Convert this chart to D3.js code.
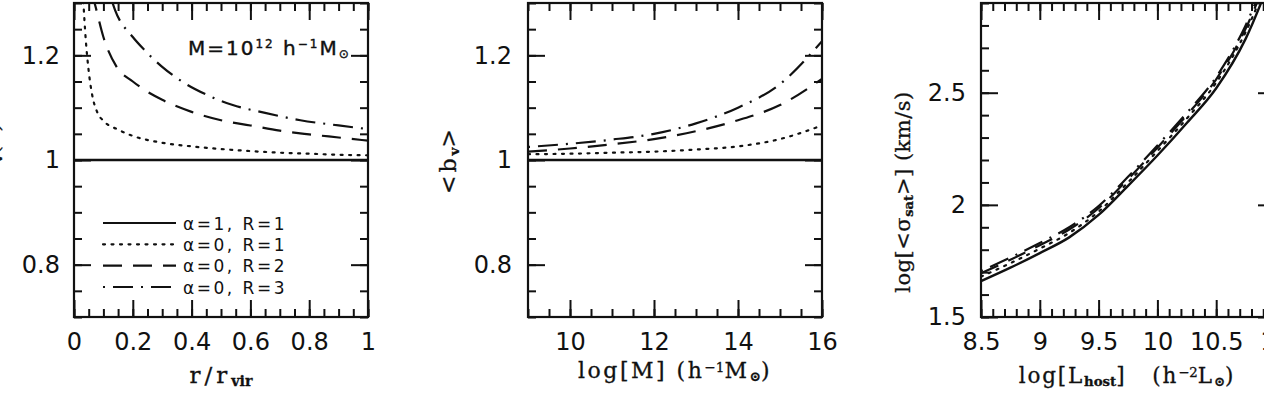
<!DOCTYPE html>
<html><head><meta charset="utf-8">
<script src="https://cdn.jsdelivr.net/npm/d3@7"></script>
<style>
body{margin:0;background:#fff;}
svg{display:block;}
text{white-space:pre;}
.tick text{font-family:"DejaVu Sans";font-size:24px;fill:#111;}
.tick line{stroke:#111;stroke-width:2;}
</style></head>
<body>
<svg id="c" width="1264" height="394"></svg>
<script>
// ---------- DATA ----------
// Panel 1: b_v(r) vs r/r_vir at M = 1e12
const p1Solid_r = [0, 1];
const p1Solid_b = [1, 1];
const p1Dot_r = [0.03, 0.04, 0.05, 0.06, 0.08, 0.10, 0.15, 0.20, 0.30, 0.40, 0.50, 0.60, 0.70, 0.80, 0.90, 1.00];
const p1Dot_b = [1.32, 1.23, 1.17, 1.13, 1.09, 1.075, 1.058, 1.046, 1.033, 1.026, 1.021, 1.017, 1.014, 1.012, 1.010, 1.009];
const p1Dash_r = [0.06, 0.07, 0.10, 0.145, 0.20, 0.26, 0.30, 0.40, 0.50, 0.60, 0.70, 0.80, 0.90, 1.00];
const p1Dash_b = [1.32, 1.30, 1.235, 1.178, 1.15, 1.127, 1.115, 1.092, 1.076, 1.066, 1.056, 1.049, 1.043, 1.037];
const p1DD_r = [0.12, 0.14, 0.20, 0.24, 0.30, 0.37, 0.45, 0.54, 0.65, 0.77, 0.90, 1.00];
const p1DD_b = [1.32, 1.286, 1.235, 1.21, 1.178, 1.149, 1.125, 1.105, 1.09, 1.076, 1.066, 1.059];

// Panel 2: <b_v> vs log M
const p2_logM = [9, 10, 11, 12, 13, 14, 15, 16];
const p2Solid = [1, 1, 1, 1, 1, 1, 1, 1];
const p2Dot = [1.011, 1.012, 1.014, 1.016, 1.020, 1.026, 1.040, 1.066];
const p2Dash = [1.016, 1.022, 1.030, 1.040, 1.055, 1.076, 1.105, 1.155];
const p2DD = [1.025, 1.031, 1.039, 1.050, 1.070, 1.100, 1.145, 1.227];

// Panel 3: log<sigma_sat> vs log L_host
const p3_logL = [8.5, 8.75, 9.0, 9.25, 9.5, 9.75, 10.0, 10.25, 10.5, 10.75, 11.0];
const p3Solid = [1.66, 1.72, 1.785, 1.855, 1.955, 2.085, 2.22, 2.365, 2.52, 2.74, 3.06];
const p3Dot   = [1.68, 1.74, 1.805, 1.875, 1.97, 2.10, 2.24, 2.385, 2.545, 2.77, 3.09];
const p3Dash  = [1.695, 1.755, 1.82, 1.89, 1.985, 2.115, 2.255, 2.40, 2.56, 2.785, 3.11];
const p3DD    = [1.705, 1.765, 1.83, 1.90, 1.995, 2.125, 2.265, 2.41, 2.57, 2.80, 3.13];

// Ticks
const p1XMajor = [0, 0.2, 0.4, 0.6, 0.8, 1];
const p1XLabels = ["0", "0.2", "0.4", "0.6", "0.8", "1"];
const bYMajor = [0.8, 1.0, 1.2];
const bYLabels = ["0.8", "1", "1.2"];
const p2XMajor = [10, 12, 14, 16];
const p2XLabels = ["10", "12", "14", "16"];
const p3XMajor = [8.5, 9, 9.5, 10, 10.5, 11];
const p3XLabels = ["8.5", "9", "9.5", "10", "10.5", "11"];
const p3YMajor = [1.5, 2, 2.5];
const p3YLabels = ["1.5", "2", "2.5"];

// Legend
const legendLabels = ["α=1, R=1", "α=0, R=1", "α=0, R=2", "α=0, R=3"];
const styles = [
  {dash: null},
  {dash: "2,6.5"},
  {dash: "19,11"},
  {dash: "2,8,20,8"}
];

// ---------- DRAW ----------
const svg = d3.select("#c");
const top0 = 3, bot0 = 317;

function panel(id, x0, xDom, yDom, opts) {
  const x = d3.scaleLinear().domain(xDom).range([x0, x0 + 294]);
  const y = d3.scaleLinear().domain(yDom).range([bot0, top0]);
  const g = svg.append("g");
  svg.append("clipPath").attr("id", "clip" + id).append("rect")
    .attr("x", x0).attr("y", top0).attr("width", 294).attr("height", bot0 - top0);

  const cg = g.append("g").attr("clip-path", `url(#clip${id})`);
  opts.series.forEach((s, i) => {
    const line = d3.line().x(d => x(d[0])).y(d => y(d[1])).curve(d3.curveMonotoneX);
    const pts = s.xs.map((v, k) => [v, s.ys[k]]);
    cg.append("path").attr("d", line(pts)).attr("fill", "none")
      .attr("stroke", "#111").attr("stroke-width", i === 0 ? 2.4 : 2.2)
      .attr("stroke-linecap", i === 1 ? "round" : "butt")
      .attr("stroke-dasharray", styles[i].dash);
  });

  const mk = (axis, tr) => {
    const a = g.append("g").attr("transform", tr).call(axis);
    a.select(".domain").remove();
    return a;
  };
  // minor ticks
  mk(d3.axisBottom(x).tickValues(opts.xMinor).tickSize(-8).tickFormat(""), `translate(0,${bot0})`);
  mk(d3.axisTop(x).tickValues(opts.xMinor).tickSize(-8).tickFormat(""), `translate(0,${top0})`);
  mk(d3.axisLeft(y).tickValues(opts.yMinor).tickSize(-8).tickFormat(""), `translate(${x0},0)`);
  mk(d3.axisRight(y).tickValues(opts.yMinor).tickSize(-8).tickFormat(""), `translate(${x0 + 294},0)`);
  // major ticks
  mk(d3.axisBottom(x).tickValues(opts.xMajor).tickSize(-17).tickPadding(16)
      .tickFormat((d, i) => opts.xLabels[i]), `translate(0,${bot0})`);
  mk(d3.axisTop(x).tickValues(opts.xMajor).tickSize(-17).tickFormat(""), `translate(0,${top0})`);
  mk(d3.axisLeft(y).tickValues(opts.yMajor).tickSize(-17).tickPadding(opts.ypad)
      .tickFormat((d, i) => opts.yLabels[i]), `translate(${x0},0)`);
  mk(d3.axisRight(y).tickValues(opts.yMajor).tickSize(-17).tickFormat(""), `translate(${x0 + 294},0)`);

  g.append("rect").attr("x", x0).attr("y", top0).attr("width", 294).attr("height", bot0 - top0)
    .attr("fill", "none").attr("stroke", "#111").attr("stroke-width", 2.2);
  return {x, y, g};
}

const P1 = panel(1, 74, [0, 1], [0.7, 1.3], {
  series: [
    {xs: p1Solid_r, ys: p1Solid_b}, {xs: p1Dot_r, ys: p1Dot_b},
    {xs: p1Dash_r, ys: p1Dash_b}, {xs: p1DD_r, ys: p1DD_b}],
  xMajor: p1XMajor, xLabels: p1XLabels, xMinor: d3.range(0, 1.0001, 0.05),
  yMajor: bYMajor, yLabels: bYLabels, yMinor: d3.range(0.7, 1.3001, 0.05), ypad: 14
});
const P2 = panel(2, 528, [9, 16], [0.7, 1.3], {
  series: [
    {xs: p2_logM, ys: p2Solid}, {xs: p2_logM, ys: p2Dot},
    {xs: p2_logM, ys: p2Dash}, {xs: p2_logM, ys: p2DD}],
  xMajor: p2XMajor, xLabels: p2XLabels, xMinor: d3.range(9, 16.001, 0.5),
  yMajor: bYMajor, yLabels: bYLabels, yMinor: d3.range(0.7, 1.3001, 0.05), ypad: 16
});
const P3 = panel(3, 981, [8.5, 11], [1.5, 2.9], {
  series: [
    {xs: p3_logL, ys: p3Solid}, {xs: p3_logL, ys: p3Dot},
    {xs: p3_logL, ys: p3Dash}, {xs: p3_logL, ys: p3DD}],
  xMajor: p3XMajor, xLabels: p3XLabels, xMinor: d3.range(8.5, 11.001, 0.1),
  yMajor: p3YMajor, yLabels: p3YLabels, yMinor: d3.range(1.5, 2.9001, 0.1), ypad: 15
});

// ---------- TEXT ----------
const serif = "DejaVu Serif";
function title(x, y, rot, parts, size, ls) {
  const t = svg.append("text")
    .attr("transform", `translate(${x},${y}) rotate(${rot})`)
    .attr("text-anchor", "middle")
    .attr("font-family", serif).attr("font-size", size)
    .attr("letter-spacing", ls || 0)
    .attr("fill", "#111").attr("stroke", "#111").attr("stroke-width", 0.3);
  parts.forEach(p => {
    const ts = t.append("tspan").text(p.t);
    if (p.s === "sub") ts.attr("font-size", size * 0.62).attr("baseline-shift", "-22%").attr("font-weight", "bold").attr("letter-spacing", 0);
    if (p.s === "sup") ts.attr("font-size", size * 0.62).attr("baseline-shift", "45%").attr("letter-spacing", 0);
  });
  return t;
}
title(221, 383, 0, [{t: "r/r"}, {t: "vir", s: "sub"}], 23, 4);
title(675, 378, 0, [{t: "log[M] (h"}, {t: "−1", s: "sup"}, {t: "M"}, {t: "⊙", s: "sub"}, {t: ")"}], 22, 2.5);
title(1127, 383, 0, [{t: "log[L"}, {t: "host", s: "sub"}, {t: "]   (h"}, {t: "−2", s: "sup"}, {t: "L"}, {t: "⊙", s: "sub"}, {t: ")"}], 21.5, 1.8);
title(456, 160, -90, [{t: "<b"}, {t: "v", s: "sub"}, {t: ">"}], 22, 3);
title(-1, 150, -90, [{t: "b"}, {t: "v", s: "sub"}, {t: "(r)"}], 22, 2);
title(910, 192, -90, [{t: "log[<σ"}, {t: "sat", s: "sub"}, {t: ">] (km/s)"}], 21, 0.5);

// annotation
const ann = svg.append("text").attr("x", 188).attr("y", 55)
  .attr("font-family", "DejaVu Sans").attr("font-size", 20).attr("fill", "#111")
  .attr("letter-spacing", 2)
  .attr("stroke", "#111").attr("stroke-width", 0.4);
ann.append("tspan").text("M=10");
ann.append("tspan").text("12").attr("font-size", 12).attr("baseline-shift", "55%");
ann.append("tspan").text(" h");
ann.append("tspan").text("−1").attr("font-size", 12).attr("baseline-shift", "55%");
ann.append("tspan").text("M");
ann.append("tspan").text("⊙").attr("font-size", 12).attr("baseline-shift", "-25%");

// legend
const lx = d3.scaleLinear().domain([0, 1]).range([103, 176]);
const ly = d3.scalePoint().domain(legendLabels).range([223, 287]);
const lg = svg.append("g");
legendLabels.forEach((lab, i) => {
  lg.append("line").attr("x1", lx(0)).attr("x2", lx(1)).attr("y1", ly(lab)).attr("y2", ly(lab))
    .attr("stroke", "#111").attr("stroke-width", 2.2)
    .attr("stroke-linecap", i === 1 ? "round" : "butt")
    .attr("stroke-dasharray", styles[i].dash);
  lg.append("text").attr("x", 183).attr("y", ly(lab) + 6.5).text(lab)
    .attr("font-family", "DejaVu Sans").attr("font-size", 17).attr("letter-spacing", 2.5)
    .attr("fill", "#111");
});
</script>
</body></html>
